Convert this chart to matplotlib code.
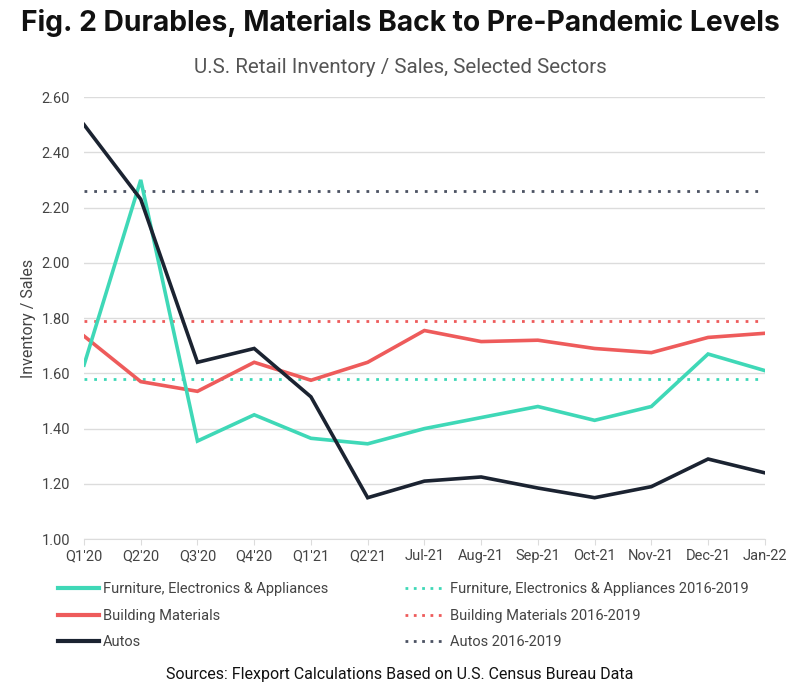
import numpy as np
import matplotlib.pyplot as plt
from matplotlib.lines import Line2D

# datos
periods = ["Q1'20", "Q2'20", "Q3'20", "Q4'20", "Q1'21", "Q2'21", "Jul-21",
           "Aug-21", "Sep-21", "Oct-21", "Nov-21", "Dec-21", "Jan-22"]
furniture = [1.63, 2.30, 1.355, 1.45, 1.365, 1.345, 1.40, 1.44, 1.48, 1.43, 1.48, 1.67, 1.61]
building  = [1.735, 1.57, 1.535, 1.64, 1.575, 1.64, 1.755, 1.715, 1.72, 1.69, 1.675, 1.73, 1.745]
autos     = [2.50, 2.23, 1.64, 1.69, 1.515, 1.15, 1.21, 1.225, 1.185, 1.15, 1.19, 1.29, 1.24]
furniture_avg = 1.58
building_avg  = 1.79
autos_avg     = 2.26
yticks = [1.00, 1.20, 1.40, 1.60, 1.80, 2.00, 2.20, 2.40, 2.60]

c_furn  = "#3fd8b7"
c_build = "#ee5b5b"
c_auto  = "#1b2331"
c_auto_dot = "#4b5262"
c_text = "#444444"

plt.rcParams['font.family'] = ['Roboto', 'DejaVu Sans']

fig = plt.figure(figsize=(8, 6.93), dpi=100)
ax = fig.add_axes([0.105, 0.222, 0.851, 0.638])

x = np.arange(len(periods))

# lineas promedio 2016-2019
ax.axhline(furniture_avg, color=c_furn, ls=(0, (1, 2.5)), lw=2)
ax.axhline(building_avg, color=c_build, ls=(0, (1, 2.5)), lw=2)
ax.axhline(autos_avg, color=c_auto_dot, ls=(0, (1, 2.5)), lw=2)

ax.plot(x, building, color=c_build, lw=2.6, solid_joinstyle='miter')
ax.plot(x, furniture, color=c_furn, lw=2.6, solid_joinstyle='miter')
ax.plot(x, autos, color=c_auto, lw=2.6, solid_joinstyle='miter')

ax.set_xlim(0, len(periods) - 1)
ax.set_ylim(1.0, 2.6)
ax.set_yticks(yticks)
ax.set_yticklabels(["%.2f" % v for v in yticks])
ax.set_xticks(x)
ax.set_xticklabels(periods)
ax.grid(axis='y', color='#dcdcdc', lw=1)
ax.set_axisbelow(True)
for s in ['top', 'right', 'left']:
    ax.spines[s].set_visible(False)
ax.spines['bottom'].set_color('#dcdcdc')
ax.tick_params(axis='y', length=0, pad=10, labelsize=10.5, labelcolor=c_text)
ax.tick_params(axis='x', length=4, color='#dcdcdc', pad=3, labelsize=10.5, labelcolor=c_text)
ax.set_ylabel("Inventory / Sales", fontsize=11.5, color=c_text, labelpad=4)

fig.text(0.5, 0.967, "Fig. 2 Durables, Materials Back to Pre-Pandemic Levels",
         ha='center', va='center', fontsize=20.3, fontweight='bold',
         family=['Inter', 'DejaVu Sans'], color='#111111')
fig.text(0.5, 0.903, "U.S. Retail Inventory / Sales, Selected Sectors",
         ha='center', va='center', fontsize=14.8, color='#555555')
fig.text(0.5, 0.026, "Sources: Flexport Calculations Based on U.S. Census Bureau Data",
         ha='center', va='center', fontsize=11.5, color='#111111')

solid_h = [Line2D([], [], color=c_furn, lw=3),
           Line2D([], [], color=c_build, lw=3),
           Line2D([], [], color=c_auto, lw=3)]
solid_l = ["Furniture, Electronics & Appliances", "Building Materials", "Autos"]
dot_h = [Line2D([], [], color=c_furn, lw=2, ls=(0, (1, 2))),
         Line2D([], [], color=c_build, lw=2, ls=(0, (1, 2))),
         Line2D([], [], color=c_auto_dot, lw=2, ls=(0, (1, 2)))]
dot_l = ["Furniture, Electronics & Appliances 2016-2019",
         "Building Materials 2016-2019", "Autos 2016-2019"]

leg1 = fig.legend(solid_h, solid_l, loc='upper left', bbox_to_anchor=(0.065, 0.168),
                  frameon=False, fontsize=10.5, handlelength=2.8, handletextpad=0.3,
                  labelspacing=0.85, labelcolor=c_text, borderaxespad=0)
leg2 = fig.legend(dot_h, dot_l, loc='upper left', bbox_to_anchor=(0.499, 0.168),
                  frameon=False, fontsize=10.5, handlelength=2.8, handletextpad=0.3,
                  labelspacing=0.85, labelcolor=c_text, borderaxespad=0)

fig.savefig("out.png", dpi=100)
